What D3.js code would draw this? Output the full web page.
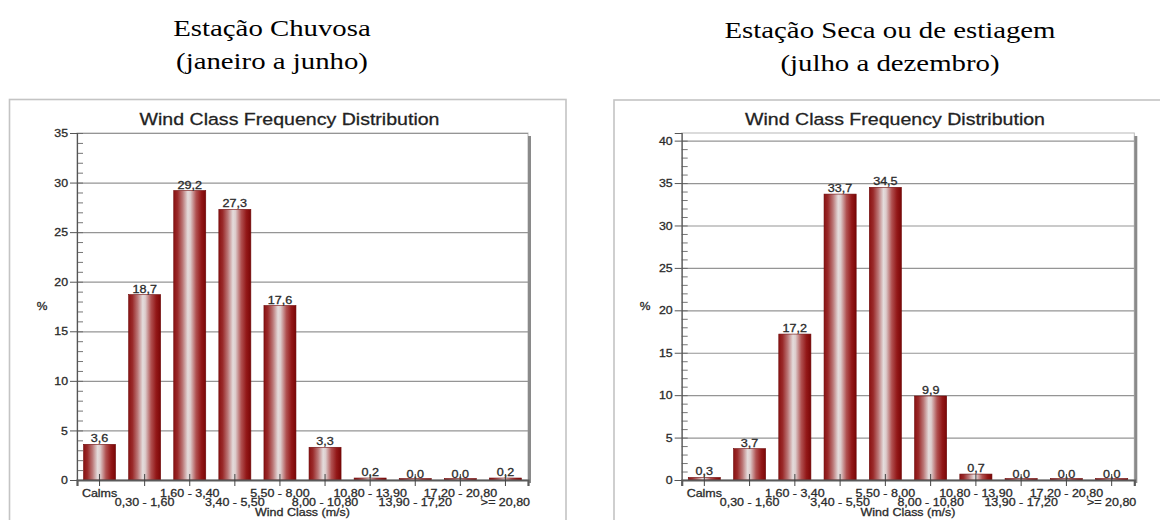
<!DOCTYPE html>
<html>
<head>
<meta charset="utf-8">
<script src="https://cdn.jsdelivr.net/npm/d3@7"></script>
<style>
  html, body { margin: 0; padding: 0; background: #fff; }
  svg { display: block; }
  .chartText { stroke: #2a2a2a; stroke-width: 0.28px; paint-order: stroke; }
</style>
</head>
<body>
<svg id="chart" width="1160" height="520"></svg>
<script>
// ---------- DATA ----------
const categories = ["Calms", "0,30 - 1,60", "1,60 - 3,40", "3,40 - 5,50", "5,50 - 8,00",
                    "8,00 - 10,80", "10,80 - 13,90", "13,90 - 17,20", "17,20 - 20,80", ">= 20,80"];
const rainyValues = [3.6, 18.7, 29.2, 27.3, 17.6, 3.3, 0.2, 0.0, 0.0, 0.2];
const dryValues   = [0.3, 3.7, 17.2, 33.7, 34.5, 9.9, 0.7, 0.0, 0.0, 0.0];
const rainyTicks = [0, 5, 10, 15, 20, 25, 30, 35];
const dryTicks   = [0, 5, 10, 15, 20, 25, 30, 35, 40];
const rainyHeader = ["Estação Chuvosa", "(janeiro a junho)"];
const dryHeader   = ["Estação Seca ou de estiagem", "(julho a dezembro)"];
const chartTitle = "Wind Class Frequency Distribution";
const xAxisTitle = "Wind Class (m/s)";
const yAxisTitle = "%";

// ---------- LAYOUT ----------
const SX = 1.2; // horizontal stretch of the original image
const SANS = "'Liberation Sans', Arial, sans-serif";
const SERIF = "'Liberation Serif', 'Times New Roman', serif";

const panels = [
  { values: rainyValues, ticks: rainyTicks, yMax: 35, header: rainyHeader,
    frame: { x: 9.5, y: 99.5, w: 556.5 }, headerX: 272, headerY: [36, 69],
    x0: 77, x1: 528, yTop: 133, yBottom: 480, titleX: 289.5, pctX: 42 },
  { values: dryValues, ticks: dryTicks, yMax: 40.9, header: dryHeader,
    frame: { x: 614, y: 100, w: 600 }, headerX: 890, headerY: [37.5, 71],
    x0: 681.7, x1: 1134.3, yTop: 133, yBottom: 480, titleX: 895, pctX: 645 }
];

const svg = d3.select("#chart");
const defs = svg.append("defs");
const grad = defs.append("linearGradient").attr("id", "barGrad")
  .attr("x1", "0%").attr("x2", "100%").attr("y1", "0%").attr("y2", "0%");
[["0%", "#8a1212"], ["12%", "#9a2a2a"], ["28%", "#bb7777"], ["44%", "#e4dcdc"],
 ["52%", "#ddcccc"], ["70%", "#b05050"], ["86%", "#931818"], ["100%", "#7a0606"]]
  .forEach(([o, c]) => grad.append("stop").attr("offset", o).attr("stop-color", c));

function stext(g, x, y, str, size, anchor, opts = {}) {
  return g.append("text")
    .attr("class", opts.plain ? null : "chartText")
    .attr("transform", `translate(${x},${y}) scale(${opts.sx || SX},1)`)
    .attr("text-anchor", anchor)
    .attr("font-family", opts.family || SANS)
    .attr("font-size", size)
    .attr("fill", opts.fill || "#2a2a2a")
    .text(str);
}

const fmt = v => d3.format(".1f")(v).replace(".", ",");

panels.forEach(p => {
  const g = svg.append("g");

  // header (Times)
  p.header.forEach((line, i) =>
    stext(g, p.headerX, p.headerY[i], line, 24, "middle", { family: SERIF, fill: "#000", sx: 1.2, plain: true }));

  // outer frame
  g.append("rect").attr("x", p.frame.x).attr("y", p.frame.y)
    .attr("width", p.frame.w).attr("height", 500)
    .attr("fill", "none").attr("stroke", "#c4c4c4").attr("stroke-width", 1.6);

  // chart title
  stext(g, p.titleX, 124.5, chartTitle, 16.3, "middle", { fill: "#222" });

  const x = d3.scaleBand().domain(categories).range([p.x0, p.x1])
    .paddingInner(0.29).paddingOuter(0.145);
  const y = d3.scaleLinear().domain([0, p.yMax]).range([p.yBottom, p.yTop]);

  // plot background + border
  g.append("rect").attr("x", p.x0).attr("y", p.yTop)
    .attr("width", p.x1 - p.x0).attr("height", p.yBottom - p.yTop)
    .attr("fill", "#fff").attr("stroke", "#b8b8b8").attr("stroke-width", 1);
  // right shadow
  g.append("rect").attr("x", p.x1).attr("y", p.yTop + 3)
    .attr("width", 3).attr("height", p.yBottom - p.yTop)
    .attr("fill", "#8a8a8a");

  // gridlines
  const grid = g.append("g").attr("transform", `translate(${p.x0},0)`)
    .call(d3.axisLeft(y).tickValues(p.ticks).tickSize(-(p.x1 - p.x0)).tickFormat(""));
  grid.select(".domain").remove();
  grid.selectAll("line").attr("stroke", "#959595").attr("stroke-width", 1.2);

  // minor ticks (inside)
  const minor = g.append("g").attr("transform", `translate(${p.x0},0)`)
    .call(d3.axisRight(y).tickValues(d3.range(0, Math.floor(p.yMax) + 1)).tickSize(6).tickFormat(""));
  minor.select(".domain").remove();
  minor.selectAll("line").attr("stroke", "#666").attr("stroke-width", 0.9);

  // y axis with labels
  const yAx = g.append("g").attr("transform", `translate(${p.x0},0)`)
    .call(d3.axisLeft(y).tickValues(p.ticks).tickSize(7).tickFormat(d3.format("d")));
  yAx.select(".domain").attr("stroke", "#555").attr("stroke-width", 1.2);
  yAx.selectAll("line").attr("stroke", "#555").attr("stroke-width", 1);
  yAx.selectAll("text")
    .attr("class", "chartText")
    .attr("x", null).attr("dy", "0.35em")
    .attr("transform", `translate(-9,0) scale(${SX},1)`)
    .attr("text-anchor", "end")
    .attr("font-family", SANS).attr("font-size", 10.3).attr("fill", "#2a2a2a");

  // % title
  stext(g, p.pctX, (p.yTop + p.yBottom) / 2 + 3.5, yAxisTitle, 10, "middle");

  // bars
  g.selectAll("rect.bar").data(p.values).join("rect").attr("class", "bar")
    .attr("x", (d, i) => x(categories[i]))
    .attr("width", x.bandwidth())
    .attr("y", d => Math.min(y(d), p.yBottom - 1.5))
    .attr("height", d => Math.max(p.yBottom - y(d), 1.5))
    .attr("fill", "url(#barGrad)")
    .attr("stroke", "#6e0a0a").attr("stroke-width", 0.6);

  // value labels
  g.selectAll("text.val").data(p.values).join("text").attr("class", "val chartText")
    .attr("transform", (d, i) => `translate(${x(categories[i]) + x.bandwidth() / 2},${y(d) - 2}) scale(${SX},1)`)
    .attr("text-anchor", "middle")
    .attr("font-family", SANS).attr("font-size", 10.5).attr("fill", "#2a2a2a")
    .text(d => fmt(d));

  // x axis
  const xAx = g.append("g").attr("transform", `translate(0,${p.yBottom})`)
    .call(d3.axisBottom(x).tickSize(6).tickPadding(0));
  xAx.select(".domain").attr("stroke", "#5a5a5a").attr("stroke-width", 2.2);
  xAx.selectAll("line").attr("y1", -6).attr("y2", 6).attr("stroke", "#444").attr("stroke-width", 1);
  xAx.selectAll("text")
    .attr("class", "chartText")
    .attr("y", null).attr("dy", null)
    .attr("transform", (d, i) => `translate(0,${i % 2 === 0 ? 16.5 : 26}) scale(${SX},1)`)
    .attr("font-family", SANS).attr("font-size", 10.4).attr("fill", "#2a2a2a");

  // x axis title
  stext(g, (p.x0 + p.x1) / 2, 516, xAxisTitle, 10.4, "middle");
});
</script>
</body>
</html>
